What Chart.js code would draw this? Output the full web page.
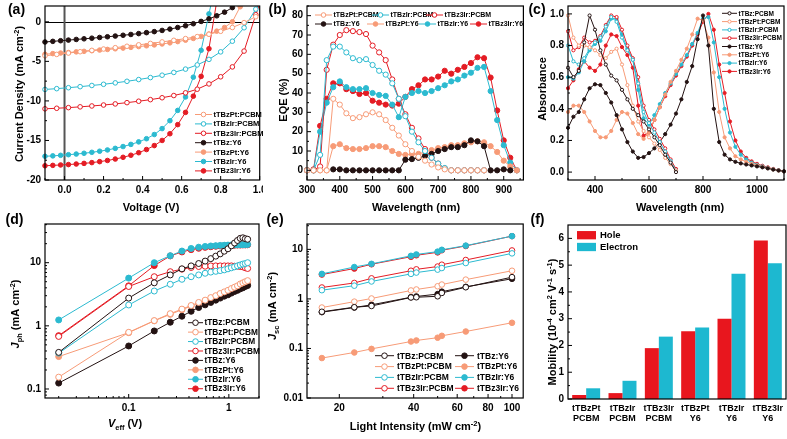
<!DOCTYPE html>
<html><head><meta charset="utf-8">
<script src="https://cdn.jsdelivr.net/npm/chart.js@4.4.1/dist/chart.umd.min.js"></script>
<style>
html,body{margin:0;padding:0;background:#fff}
body{position:relative;width:787px;height:439px;overflow:hidden}
canvas{position:absolute;display:block}
</style></head>
<body>
<canvas id="ca"></canvas><canvas id="cb"></canvas><canvas id="cc"></canvas>
<canvas id="cd"></canvas><canvas id="ce"></canvas><canvas id="cf"></canvas>
<script>
// ======================= DATA =======================
const seriesNames = ['tTBz:PCBM','tTBzPt:PCBM','tTBzIr:PCBM','tTBz3Ir:PCBM','tTBz:Y6','tTBzPt:Y6','tTBzIr:Y6','tTBz3Ir:Y6'];

// (a) J-V curves
const jvVoltY6   = [-0.10,-0.06,-0.02,0.02,0.06,0.10,0.14,0.18,0.22,0.26,0.30,0.34,0.38,0.42,0.46,0.50,0.54,0.58,0.62,0.66,0.70,0.74,0.78,0.82,0.86,0.90];
const jvVoltPCBM = [-0.10,-0.04,0.02,0.08,0.14,0.20,0.26,0.32,0.38,0.44,0.50,0.56,0.62,0.68,0.74,0.80,0.86,0.92,0.98,1.04];
const jvPtPCBM  = [-4.30,-4.12,-3.95,-3.78,-3.61,-3.44,-3.27,-3.09,-2.91,-2.73,-2.54,-2.34,-2.12,-1.87,-1.57,-1.20,-0.72,-0.10,0.65,1.40];
const jvIrPCBM  = [-8.55,-8.45,-8.33,-8.20,-8.05,-7.90,-7.72,-7.52,-7.30,-7.05,-6.75,-6.40,-5.98,-5.45,-4.75,-3.80,-2.45,-0.75,1.60,4.0];
const jv3IrPCBM = [-11.00,-10.93,-10.85,-10.75,-10.64,-10.52,-10.38,-10.22,-10.04,-9.84,-9.60,-9.32,-8.98,-8.52,-7.85,-6.95,-5.70,-3.70,0.90,5.0];
const jvBzY6  = [-2.55,-2.47,-2.39,-2.31,-2.23,-2.15,-2.07,-1.98,-1.89,-1.80,-1.70,-1.60,-1.49,-1.37,-1.24,-1.09,-0.92,-0.72,-0.50,-0.24,0.05,0.38,0.76,1.22,1.80];
const jvPtY6  = [-4.10,-4.02,-3.95,-3.88,-3.80,-3.73,-3.65,-3.57,-3.49,-3.41,-3.32,-3.23,-3.13,-3.03,-2.92,-2.80,-2.66,-2.50,-2.32,-2.10,-1.85,-1.55,-1.18,-0.72,0.0,1.9];
const jvIrY6  = [-17.0,-16.95,-16.88,-16.80,-16.72,-16.62,-16.50,-16.36,-16.20,-16.00,-15.77,-15.50,-15.18,-14.78,-14.25,-13.50,-12.50,-11.20,-9.50,-7.00,-3.60,1.0,5.5];
const jv3IrY6 = [-18.20,-18.15,-18.10,-18.05,-17.98,-17.90,-17.80,-17.68,-17.53,-17.35,-17.13,-16.87,-16.55,-16.15,-15.65,-15.00,-14.15,-13.00,-11.45,-9.40,-6.90,-3.40,2.6];
const aXTicks = [0,0.2,0.4,0.6,0.8,1.0];
const aXMinor = [-0.1,0.1,0.3,0.5,0.7,0.9];
const aYTicks = [-20,-15,-10,-5,0];
const aYMinor = [-17.5,-12.5,-7.5,-2.5];

// (b) EQE
const eqeWavelength = [300,320,340,360,380,400,420,440,460,480,500,520,540,560,580,600,620,640,660,680,700,720,740,760,780,800,820,840,860,880,900,920,940];
const eqePtPCBM  = [0,0,0,0,37,34,29.5,27,27.5,29,30,29,26,22,18,13.5,10,7,5,3,1.5,0.5,0,0,0,0,0,0,null,null,null,null,null];
const eqeIrPCBM  = [0,0,8,57,64,64,61,58,57,57.5,54.5,51.5,49.5,45,37,28,20,14.5,10,6.5,3.5,1.2,0,0,0,0,0,0,null,null,null,null,null];
const eqe3IrPCBM = [0,0,2,52,65,70,72.5,72,71.5,70.5,64.5,61,57,47,37,29,22,16.5,11,6.5,3.5,1,0,0,0,0,0,0,null,null,null,null,null];
const eqeBzY6    = [null,null,null,null,0.5,0.5,0,0,0,0,0,0,0,0,0,5.5,5.8,6.5,7.5,8.5,10,11,12,12,13,15.5,15,12.5,0,0,0.5,0,null];
const eqePtY6    = [0,0,0,0,12.5,13.5,11.5,11,11,11.5,12.5,12.5,12,10,8.5,8,8.5,8.5,9.5,10.5,11.5,12,13,13,14,14.5,15,14.5,12.5,9.5,5,2,0];
const eqeIrY6    = [0,0,20,35,43,46,43,42,42,42.5,40,39,38.5,34,27.5,38,40,41,40,41,42.5,44,46,47,49,50.5,53,53.5,41,26,13,4,0];
const eqe3IrY6   = [0,0.5,23,37,45,45,42,41,39.5,40,36,35,34,33.5,34.5,38,42,44,47,47,48.5,51.5,50,52,53.5,55.5,58.5,58,48,31,15.5,6.5,0];
const bXTicks = [300,400,500,600,700,800,900];
const bXMinor = [350,450,550,650,750,850,950];
const bYTicks = [0,10,20,30,40,50,60,70,80];
const bYMinor = [5,15,25,35,45,55,65,75,85];

// (c) Absorbance
const absWavelength = [300,320,340,360,380,400,420,440,460,480,500,520,540,560,580,600,620,640,660,680,700,720,740,760,780,800,820,840,860,880,900,920,940,960,980,1000,1020,1040,1060,1080,1100];
const absBzPCBM  = [0.66,0.60,0.64,0.82,0.99,0.90,0.77,0.68,0.61,0.58,0.52,0.46,0.40,0.36,0.32,0.27,0.22,0.17,0.11,0.06,0.0];
const absPtPCBM  = [0.99,0.85,0.80,0.80,0.79,0.77,0.74,0.72,0.76,0.78,0.68,0.55,0.42,0.32,0.26,0.22,0.18,0.14,0.09,0.05,0.01];
const absIrPCBM  = [0.80,0.70,0.68,0.72,0.78,0.82,0.85,0.92,0.98,0.95,0.85,0.77,0.71,0.56,0.38,0.31,0.25,0.19,0.13,0.07,0.01];
const abs3IrPCBM = [0.89,0.77,0.79,0.85,0.82,0.83,0.86,0.93,0.99,0.98,0.90,0.80,0.72,0.60,0.42,0.33,0.27,0.21,0.15,0.08,0.02];
const absBzY6  = [0.28,0.35,0.38,0.46,0.53,0.555,0.55,0.50,0.44,0.36,0.27,0.19,0.13,0.09,0.095,0.12,0.15,0.19,0.24,0.30,0.37,0.46,0.57,0.67,0.84,0.99,0.80,0.40,0.19,0.11,0.08,0.065,0.055,0.048,0.042,0.036,0.03,0.023,0.016,0.01,0.005];
const absPtY6  = [0.38,0.42,0.42,0.38,0.32,0.26,0.22,0.22,0.26,0.33,0.38,0.37,0.31,0.24,0.21,0.25,0.33,0.41,0.49,0.57,0.64,0.71,0.78,0.87,0.97,0.96,0.85,0.63,0.38,0.22,0.15,0.10,0.08,0.065,0.052,0.042,0.033,0.025,0.017,0.01,0.005];
const absIrY6  = [0.60,0.59,0.63,0.70,0.77,0.81,0.83,0.89,0.97,0.97,0.87,0.78,0.71,0.52,0.34,0.30,0.36,0.43,0.50,0.56,0.62,0.68,0.74,0.81,0.88,0.97,0.98,0.82,0.60,0.40,0.25,0.16,0.11,0.08,0.06,0.046,0.036,0.027,0.018,0.011,0.005];
const abs3IrY6 = [0.53,0.58,0.65,0.70,0.66,0.64,0.68,0.80,0.87,0.86,0.79,0.74,0.66,0.42,0.23,0.25,0.33,0.41,0.48,0.55,0.61,0.67,0.73,0.80,0.87,0.95,1.0,0.90,0.68,0.50,0.32,0.20,0.13,0.09,0.068,0.052,0.04,0.03,0.02,0.012,0.005];
const cXTicks = [400,600,800,1000];
const cXMinor = [300,500,700,900,1100];
const cYTicks = [0,0.2,0.4,0.6,0.8,1.0];
const cYMinor = [0.1,0.3,0.5,0.7,0.9];

// (d) Jph vs Veff
const veff = [0.02,0.1,0.18,0.26,0.34,0.42,0.5,0.58,0.66,0.74,0.82,0.9,0.98,1.06,1.14,1.22,1.3,1.38,1.46,1.54];
const jphBzPCBM  = [0.38,2.75,4.8,6.4,8.0,8.9,9.7,10.6,11.6,12.7,13.8,15.2,16.6,18.5,20.5,22.5,24.3,24.8,24.0,23.5];
const jphPtPCBM  = [0.154,0.79,1.21,1.56,1.84,2.1,2.35,2.55,2.8,3.0,3.25,3.45,3.65,3.9,4.1,4.3,4.6,4.8,5.0,5.2];
const jphIrPCBM  = [0.37,2.14,3.56,4.55,5.46,6.0,6.4,6.8,7.1,7.3,7.5,7.7,8.0,8.3,8.6,8.9,9.2,9.5,9.7,10.0];
const jph3IrPCBM = [0.68,4.2,6.0,7.2,7.9,8.4,8.7,8.8,8.9,8.9,8.9,8.9,8.9,8.9,8.8,8.8,8.7,8.6,8.3,8.1];
const jphBzY6  = [0.124,0.48,0.83,1.14,1.42,1.7,1.95,2.15,2.35,2.55,2.75,2.95,3.1,3.3,3.5,3.65,3.85,4.0,4.2,4.35];
const jphPtY6  = [0.326,0.78,1.2,1.52,1.8,2.05,2.25,2.45,2.65,2.85,3.0,3.2,3.35,3.55,3.75,3.95,4.1,4.3,4.45,4.6];
const jphIrY6  = [1.24,5.7,10.0,12.9,15.3,16.8,17.6,18.1,18.4,18.6,18.8,18.9,19.0,19.1,19.2,19.2,19.3,19.3,19.4,19.4];
const jph3IrY6 = [0.70,4.3,9.0,12.8,14.8,16.1,16.9,17.5,17.9,18.2,18.4,18.6,18.7,18.8,18.9,19.0,19.0,19.1,19.1,19.2];
const dXTicks = [0.1,1];
const dYTicks = [0.1,1,10];

// (e) Jsc vs light intensity
const intensity = [17,23,27,39,41,50,52,65,100];
const jscBzPCBM  = [0.55,0.68,0.72,1.07,1.08,1.13,1.32,1.72,2.75];
const jscPtPCBM  = [0.67,0.88,1.02,1.48,1.55,1.8,1.95,2.45,3.7];
const jscIrPCBM  = [1.5,1.85,2.25,3.2,3.4,3.9,4.2,5.3,8.3];
const jsc3IrPCBM = [1.7,2.1,2.6,3.7,3.95,4.5,4.9,6.1,9.5];
const jscBzY6  = [0.54,0.67,0.76,1.08,1.12,1.25,1.4,1.75,2.55];
const jscPtY6  = [0.064,0.083,0.098,0.138,0.145,0.165,0.18,0.22,0.33];
const jscIrY6  = [3.2,4.4,5.1,7.4,7.9,9.0,9.8,11.9,18.5];
const jsc3IrY6 = [3.1,4.1,5.0,7.1,7.6,8.7,9.6,11.7,18.5];
const eXTicks = [20,40,60,80,100];
const eXMinor = [30,50,70,90];
const eYTicks = [0.01,0.1,1,10];

// (f) Mobility
const mobCategories = [['tTBzPt','PCBM'],['tTBzIr','PCBM'],['tTBz3Ir','PCBM'],['tTBzPt','Y6'],['tTBzIr','Y6'],['tTBz3Ir','Y6']];
const holeMobility     = [0.15,0.22,1.9,2.53,3.0,5.92];
const electronMobility = [0.40,0.68,2.33,2.67,4.68,5.07];
const fYTicks = [0,1,2,3,4,5,6];
const fYMinor = [0.5,1.5,2.5,3.5,4.5,5.5];

// ======================= STYLE / LAYOUT =======================
const F = '"Liberation Sans", Arial, Helvetica, sans-serif';
const COL = { bz:'#231212', pt:'#f79b77', ir:'#2cbad0', ir3:'#e41c24', hole:'#e8161e', elec:'#1db8d0' };
const seriesColor = [COL.bz, COL.pt, COL.ir, COL.ir3, COL.bz, COL.pt, COL.ir, COL.ir3];
const seriesOpen = [true,true,true,true,false,false,false,false];

const RECT = { a:[0,0,263,215], b:[263,0,264,215], c:[527,0,260,215], d:[0,205,263,234], e:[263,205,264,234], f:[527,205,260,234] };
const AREA = { a:[45,6,261,180], b:[307,6,524,180], c:[568,6,784,180], d:[45,224,262,398], e:[307,224,524,398], f:[568,225,786,399] };

function pts(xs, ys){ const o=[]; ys.forEach((y,i)=>{ if(y!==null && i<xs.length) o.push({x:xs[i], y:y}); }); return o; }
function lineDs(k, xs, ys, r, clip){
  const c = seriesColor[k];
  return { label: seriesNames[k], data: pts(xs, ys), borderColor:c, backgroundColor:c, borderWidth:1,
    pointRadius:r, pointHoverRadius:r, pointBorderWidth:1, pointBackgroundColor: seriesOpen[k] ? '#fff' : c,
    pointBorderColor:c, tension:0, clip: clip };
}
function axis(type, min, max, major, fmt){
  return { type, min, max, bounds:'data', grid:{display:false, drawTicks:false}, border:{display:false},
    ticks:{ autoSkip:false, maxRotation:0, minRotation:0, padding:4, color:'#000', font:{family:F, weight:'bold', size:10}, callback:(v)=>fmt(v) },
    afterBuildTicks:(s)=>{ s.ticks = major.map(v=>({value:v})); } };
}
function logMinor(min, max, major){
  const out=[]; for(let d=Math.floor(Math.log10(min)); d<=Math.ceil(Math.log10(max)); d++){ for(let m=1;m<10;m++){ const v=m*Math.pow(10,d); if(v>=min*0.999 && v<=max*1.001 && !major.some(t=>Math.abs(t-v)/v<1e-6)) out.push(v); } } return out;
}

// rich text: segs = [[text, style]] style: '' normal, 'i' italic, 'b' subscript, 'p' superscript
function drawRich(ctx, segs, x, y, rot, size, align){
  ctx.save(); ctx.translate(x, y); if (rot) ctx.rotate(rot);
  ctx.fillStyle = '#000'; ctx.textBaseline = 'alphabetic'; ctx.textAlign = 'left';
  const items = segs.map(([t, st='']) => {
    const small = st.includes('b') || st.includes('p');
    const sz = small ? size*0.68 : size;
    const f = (st.includes('i') ? 'italic ' : '') + 'bold ' + sz + 'px ' + F;
    ctx.font = f;
    return { t, f, w: ctx.measureText(t).width, dy: st.includes('b') ? size*0.25 : st.includes('p') ? -size*0.38 : 0 };
  });
  const W = items.reduce((a, b) => a + b.w, 0);
  let cx = align === 'left' ? 0 : -W/2;
  const base = size*0.36;
  for (const it of items){ ctx.font = it.f; ctx.fillText(it.t, cx, base + it.dy); cx += it.w; }
  ctx.restore();
}

const EXTRAS = {};
const panelPlugin = {
  id: 'panelDecor',
  beforeDatasetsDraw(chart){
    const ex = EXTRAS[chart.canvas.id]; if (!ex || !ex.zeroLines) return;
    const {ctx, chartArea:a, scales} = chart; ctx.save();
    const y0 = Math.round(scales.y.getPixelForValue(0)) + 0.5;
    ctx.strokeStyle = '#000'; ctx.lineWidth = 1; ctx.beginPath(); ctx.moveTo(a.left, y0); ctx.lineTo(a.right, y0); ctx.stroke();
    const x0 = scales.x.getPixelForValue(0);
    ctx.strokeStyle = '#555'; ctx.lineWidth = 2; ctx.beginPath(); ctx.moveTo(x0, a.top); ctx.lineTo(x0, a.bottom); ctx.stroke();
    ctx.restore();
  },
  afterDatasetsDraw(chart){
    const ex = EXTRAS[chart.canvas.id]; if (!ex) return;
    const {ctx, chartArea:a, scales} = chart; ctx.save();
    ctx.strokeStyle = '#000'; ctx.lineWidth = 1.2;
    ctx.strokeRect(a.left, a.top, a.right - a.left, a.bottom - a.top);
    ctx.lineWidth = 1;
    for (const key of ['x','y']){
      const spec = ex.ticks && ex.ticks[key]; if (!spec) continue;
      const s = scales[key]; const horiz = s.isHorizontal();
      const draw = (v, len) => { const p = s.getPixelForValue(v); ctx.beginPath();
        if (horiz){ ctx.moveTo(p, a.bottom); ctx.lineTo(p, a.bottom - len); } else { ctx.moveTo(a.left, p); ctx.lineTo(a.left + len, p); }
        ctx.stroke(); };
      spec.major.forEach(v => draw(v, 4)); (spec.minor || []).forEach(v => draw(v, 2));
    }
    ctx.restore();
  },
  afterDraw(chart){
    const ex = EXTRAS[chart.canvas.id]; if (!ex) return;
    const ctx = chart.ctx; const [ox, oy] = ex.rect;
    const L = ex.legend;
    if (L){
      ctx.save();
      for (const [di, lx, ly] of L.items){
        const ds = chart.data.datasets[di]; const x = lx - ox, y = ly - oy; let tx;
        if (L.box){ ctx.fillStyle = ds.backgroundColor; ctx.fillRect(x, y - L.bh/2, L.bw, L.bh); tx = x + L.bw + L.gap; }
        else {
          ctx.strokeStyle = ds.borderColor; ctx.lineWidth = 1; ctx.beginPath(); ctx.moveTo(x, y); ctx.lineTo(x + L.len, y); ctx.stroke();
          ctx.beginPath(); ctx.arc(x + L.len/2, y, L.r, 0, Math.PI*2); ctx.fillStyle = ds.pointBackgroundColor; ctx.fill(); ctx.strokeStyle = ds.pointBorderColor; ctx.stroke();
          tx = x + L.len + L.gap;
        }
        ctx.fillStyle = '#000'; ctx.font = 'bold ' + L.size + 'px ' + F; ctx.textBaseline = 'middle'; ctx.textAlign = 'left';
        ctx.fillText(ds.label, tx, y + 0.5);
      }
      ctx.restore();
    }
    for (const t of (ex.texts || [])) drawRich(ctx, t.s, t.x - ox, t.y - oy, t.rot || 0, t.size || 11, t.align);
  }
};
Chart.register(panelPlugin);

function makeChart(id, key, type, datasets, scales, extras, labels){
  const r = RECT[key], A = AREA[key];
  const cv = document.getElementById(id);
  cv.width = r[2]; cv.height = r[3]; cv.style.left = r[0] + 'px'; cv.style.top = r[1] + 'px';
  cv.style.width = r[2] + 'px'; cv.style.height = r[3] + 'px';
  EXTRAS[id] = Object.assign({ rect: r }, extras);
  const padL = A[0]-r[0], padT = A[1]-r[1], padR = r[0]+r[2]-A[2], padB = r[1]+r[3]-A[3];
  const zp = s => { s.paddingLeft = s.paddingRight = s.paddingTop = s.paddingBottom = 0; };
  scales.x.afterFit = s => { s.height = padB; zp(s); };
  scales.y.afterFit = s => { s.width = padL; zp(s); };
  const data = labels ? { labels, datasets } : { datasets };
  return new Chart(cv, { type, data, options: {
    responsive:false, animation:false, events:[], devicePixelRatio:1,
    layout:{ padding:{ left:0, top:padT, right:padR, bottom:0 } },
    scales, plugins:{ legend:{display:false}, tooltip:{enabled:false} } } });
}
const ROT = -Math.PI/2;
const f1 = v => v.toFixed(1), fs = v => String(v);

// ---------- (a) ----------
{
  const clip = {left:3, right:0, top:0, bottom:3};
  const ds = [
    lineDs(1, jvVoltPCBM, jvPtPCBM, 2.3, clip), lineDs(2, jvVoltPCBM, jvIrPCBM, 2.3, clip), lineDs(3, jvVoltPCBM, jv3IrPCBM, 2.3, clip),
    lineDs(4, jvVoltY6, jvBzY6, 2.3, clip), lineDs(5, jvVoltY6, jvPtY6, 2.3, clip), lineDs(6, jvVoltY6, jvIrY6, 2.3, clip), lineDs(7, jvVoltY6, jv3IrY6, 2.3, clip)];
  makeChart('ca','a','line', ds, { x: axis('linear', -0.1, 1.0, aXTicks, f1), y: axis('linear', -20, 2, aYTicks, fs) }, {
    zeroLines:true, ticks:{ x:{major:aXTicks, minor:aXMinor}, y:{major:aYTicks, minor:aYMinor} },
    legend:{ items:[0,1,2,3,4,5,6].map(i=>[i, 195, 114.5 + 9.4*i]), len:17, gap:1.5, size:7.5, r:2.3 },
    texts:[ {s:[['(a)']], x:16.5, y:9, size:14}, {s:[['Voltage (V)']], x:151, y:207}, {s:[['Current Density (mA cm'],['-2','p'],[')']], x:19, y:94, rot:ROT} ] });
}
// ---------- (b) ----------
{
  const clip = 3;
  const W = eqeWavelength;
  const ds = [
    lineDs(1, W, eqePtPCBM, 2.6, clip), lineDs(2, W, eqeIrPCBM, 2.6, clip), lineDs(3, W, eqe3IrPCBM, 2.6, clip),
    lineDs(4, W, eqeBzY6, 2.6, clip), lineDs(5, W, eqePtY6, 2.6, clip), lineDs(6, W, eqeIrY6, 2.6, clip), lineDs(7, W, eqe3IrY6, 2.6, clip)];
  makeChart('cb','b','line', ds, { x: axis('linear', 300, 960, bXTicks, fs), y: axis('linear', -5, 85, bYTicks, fs) }, {
    ticks:{ x:{major:bXTicks, minor:bXMinor}, y:{major:bYTicks, minor:bYMinor} },
    legend:{ items:[[0,315,15],[1,372,15],[2,426,15],[3,315,24],[4,367,24],[5,419,24],[6,470,24]], len:17, gap:1.5, size:7, r:2.3 },
    texts:[ {s:[['(b)']], x:277.5, y:9, size:14}, {s:[['Wavelength (nm)']], x:416, y:207}, {s:[['EQE (%)']], x:283.5, y:100, rot:ROT} ] });
}
// ---------- (c) ----------
{
  const clip = 2;
  const W = absWavelength;
  const ds = [
    lineDs(0, W, absBzPCBM, 1.6, clip), lineDs(1, W, absPtPCBM, 1.6, clip), lineDs(2, W, absIrPCBM, 1.6, clip), lineDs(3, W, abs3IrPCBM, 1.6, clip),
    lineDs(4, W, absBzY6, 1.6, clip), lineDs(5, W, absPtY6, 1.6, clip), lineDs(6, W, absIrY6, 1.6, clip), lineDs(7, W, abs3IrY6, 1.6, clip)];
  makeChart('cc','c','line', ds, { x: axis('linear', 300, 1100, cXTicks, fs), y: axis('linear', -0.05, 1.05, cYTicks, f1) }, {
    ticks:{ x:{major:cXTicks, minor:cXMinor}, y:{major:cYTicks, minor:cYMinor} },
    legend:{ items:[0,1,2,3,4,5,6,7].map(i=>[i, 722, 13.3 + 8.3*i]), len:15, gap:1.5, size:6.5, r:1.6 },
    texts:[ {s:[['(c)']], x:537, y:9, size:14}, {s:[['Wavelength (nm)']], x:680, y:207}, {s:[['Absorbance']], x:542.5, y:89, rot:ROT} ] });
}
// ---------- (d) ----------
{
  const clip = 3;
  const ds = [
    lineDs(0, veff, jphBzPCBM, 3, clip), lineDs(1, veff, jphPtPCBM, 3, clip), lineDs(2, veff, jphIrPCBM, 3, clip), lineDs(3, veff, jph3IrPCBM, 3, clip),
    lineDs(4, veff, jphBzY6, 3, clip), lineDs(5, veff, jphPtY6, 3, clip), lineDs(6, veff, jphIrY6, 3, clip), lineDs(7, veff, jph3IrY6, 3, clip)];
  const xmin = 0.0146, xmax = 2.0, ymin = 0.072, ymax = 41;
  makeChart('cd','d','line', ds, { x: axis('logarithmic', xmin, xmax, dXTicks, fs), y: axis('logarithmic', ymin, ymax, dYTicks, fs) }, {
    ticks:{ x:{major:dXTicks, minor:logMinor(xmin,xmax,dXTicks)}, y:{major:dYTicks, minor:logMinor(ymin,ymax,dYTicks)} },
    legend:{ items:[0,1,2,3,4,5,6,7].map(i=>[i, 188, 322.7 + 9.43*i]), len:15, gap:1.5, size:8.3, r:2.8 },
    texts:[ {s:[['(d)']], x:14.5, y:219, size:14}, {s:[['V','i'],['eff','b'],[' (V)']], x:125, y:423},
            {s:[['J','i'],['ph','b'],[' (mA cm'],['-2','p'],[')']], x:15, y:314, rot:ROT} ] });
}
// ---------- (e) ----------
{
  const clip = 3;
  const I = intensity;
  const ds = [
    lineDs(0, I, jscBzPCBM, 2.8, clip), lineDs(1, I, jscPtPCBM, 2.8, clip), lineDs(2, I, jscIrPCBM, 2.8, clip), lineDs(3, I, jsc3IrPCBM, 2.8, clip),
    lineDs(4, I, jscBzY6, 2.8, clip), lineDs(5, I, jscPtY6, 2.8, clip), lineDs(6, I, jscIrY6, 2.8, clip), lineDs(7, I, jsc3IrY6, 2.8, clip)];
  const xmin = 14.8, xmax = 111, ymin = 0.01, ymax = 32.5;
  makeChart('ce','e','line', ds, { x: axis('logarithmic', xmin, xmax, eXTicks, fs), y: axis('logarithmic', ymin, ymax, eYTicks, fs) }, {
    ticks:{ x:{major:eXTicks, minor:eXMinor}, y:{major:eYTicks, minor:logMinor(ymin,ymax,eYTicks)} },
    legend:{ items:[[0,375,355.7],[1,375,366.6],[2,375,377.4],[3,375,388.3],[4,455,355.7],[5,455,366.6],[6,455,377.4],[7,455,388.3]], len:19, gap:3, size:8.5, r:2.8 },
    texts:[ {s:[['(e)']], x:275, y:219, size:14}, {s:[['Light Intensity (mW cm'],['-2','p'],[')']], x:415.5, y:426.5},
            {s:[['J','i'],['sc','b'],[' (mA cm'],['-2','p'],[')']], x:272, y:306, rot:ROT} ] });
}
// ---------- (f) ----------
{
  const ds = [
    { label:'Hole', data: holeMobility, backgroundColor: COL.hole, borderWidth:0, barPercentage:1.0, categoryPercentage:0.77 },
    { label:'Electron', data: electronMobility, backgroundColor: COL.elec, borderWidth:0, barPercentage:1.0, categoryPercentage:0.77 } ];
  const xAx = { type:'category', grid:{display:false, drawTicks:false}, border:{display:false},
    ticks:{ autoSkip:false, maxRotation:0, minRotation:0, padding:4, color:'#000', font:{family:F, weight:'bold', size:9, lineHeight:1.12} } };
  makeChart('cf','f','bar', ds, { x: xAx, y: axis('linear', 0, 6.5, fYTicks, fs) }, {
    ticks:{ y:{major:fYTicks, minor:fYMinor} },
    legend:{ box:true, items:[[0,577,235.2],[1,577,247]], bw:19, bh:8.3, gap:4, size:9.5 },
    texts:[ {s:[['(f)']], x:537.5, y:219, size:14},
            {s:[['Mobility (10'],['-4','p'],[' cm'],['2','p'],[' V'],['-1','p'],[' s'],['-1','p'],[')']], x:552, y:322, rot:ROT} ] }, mobCategories);
}
</script>
</body></html>
